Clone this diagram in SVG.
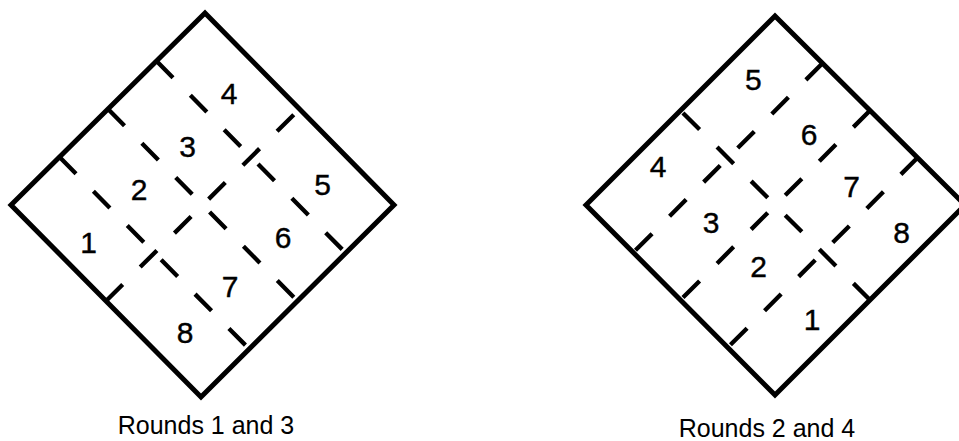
<svg xmlns="http://www.w3.org/2000/svg" width="959" height="441" viewBox="0 0 959 441">
<style>
.frame{fill:none;stroke:#000;stroke-width:5;stroke-linejoin:miter;stroke-miterlimit:10}
.div{fill:none;stroke:#000;stroke-width:4.3;stroke-dasharray:23.5 24.7;stroke-linecap:butt}
.num{font-family:"Liberation Sans",Arial,Helvetica,sans-serif;font-size:30px;fill:#000;stroke:#000;stroke-width:0.4;text-anchor:middle}
.cap{font-family:"Liberation Sans",Arial,Helvetica,sans-serif;font-size:25px;fill:#000;text-anchor:middle}
</style>
<rect width="959" height="441" fill="#fff"/>
<g id="board-left">
  <polygon class="frame" points="11,205 205,13 394,205 201,397"/>
  <g id="dividers-left">
    <line class="div" x1="59.5" y1="157" x2="249.25" y2="349"/>
    <line class="div" x1="108" y1="109" x2="297.5" y2="301"/>
    <line class="div" x1="156.5" y1="61" x2="345.75" y2="253"/>
    <line class="div" x1="106" y1="301" x2="299.5" y2="109"/>
  </g>
  <g id="cells-left">
    <text class="num" x="88.5" y="253">1</text>
    <text class="num" x="139" y="200">2</text>
    <text class="num" x="187.5" y="157">3</text>
    <text class="num" x="229" y="104">4</text>
    <text class="num" x="322.5" y="195">5</text>
    <text class="num" x="283" y="248">6</text>
    <text class="num" x="230" y="297">7</text>
    <text class="num" x="185" y="343">8</text>
  </g>
  <text class="cap" x="206" y="434">Rounds 1 and 3</text>
</g>
<g id="board-right">
  <polygon class="frame" points="586,205 775,16 965,205 775,395"/>
  <g id="dividers-right">
    <line class="div" x1="822.5" y1="63.25" x2="633.25" y2="252.5"/>
    <line class="div" x1="870" y1="110.5" x2="680.5" y2="300"/>
    <line class="div" x1="917.5" y1="157.75" x2="727.75" y2="347.5"/>
    <line class="div" x1="870" y1="300" x2="680.5" y2="110.5"/>
  </g>
  <g id="cells-right">
    <text class="num" x="812" y="330">1</text>
    <text class="num" x="758.7" y="277">2</text>
    <text class="num" x="711" y="233">3</text>
    <text class="num" x="658" y="177">4</text>
    <text class="num" x="753.3" y="90">5</text>
    <text class="num" x="809" y="145">6</text>
    <text class="num" x="851.7" y="197">7</text>
    <text class="num" x="901.7" y="243">8</text>
  </g>
  <text class="cap" x="767" y="437">Rounds 2 and 4</text>
</g>
</svg>
